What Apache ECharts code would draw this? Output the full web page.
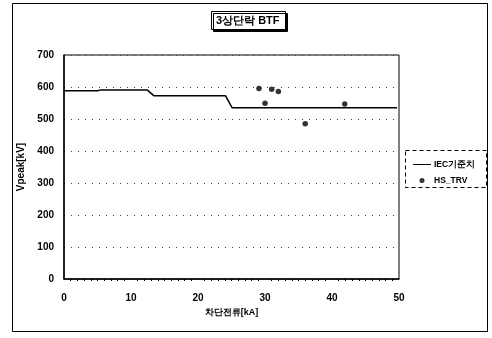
<!DOCTYPE html>
<html><head><meta charset="utf-8">
<script src="https://cdn.jsdelivr.net/npm/echarts@6/dist/echarts.min.js"></script>
<style>html,body{margin:0;padding:0;background:#fff}#c{width:492px;height:338px}</style>
</head><body><div id="c"></div>
<script>
const titleText = '3상단락 BTF';
const xName = '차단전류[kA]';
const yName = 'Vpeak[kV]';
const iecX = [0, 5, 5.5, 12.4, 13.4, 24.1, 25.1, 49.7];
const iecY = [588, 588, 591, 591, 573, 573, 535, 535];
const trvX = [29.1, 30.0, 31.0, 32.0, 36.0, 41.9];
const trvY = [595, 549, 593, 586, 485, 547];
const F = '"Liberation Sans", Arial, sans-serif';
const chart = echarts.init(document.getElementById('c'));
chart.setOption({
  animation: false,
  backgroundColor: '#fff',
  title: {
    text: titleText, left: 211, top: 11, padding: [4, 6, 4, 5],
    borderColor: '#000', borderWidth: 1,
    shadowColor: '#000', shadowOffsetX: 2, shadowOffsetY: 2, shadowBlur: 0,
    backgroundColor: '#fff',
    textStyle: { fontFamily: F, fontSize: 11, fontWeight: 'bold', color: '#000' }
  },
  legend: {
    orient: 'vertical', left: 408, top: 155, itemGap: 7, itemWidth: 18, itemHeight: 5,
    textStyle: { fontFamily: F, fontSize: 8.5, fontWeight: 'bold', color: '#000', padding: [0, 0, 0, -2] },
    data: [
      { name: 'IEC기준치', icon: 'path://M0,2L18,2L18,3L0,3Z' },
      { name: 'HS_TRV', icon: 'circle' }
    ]
  },
  graphic: [
    { type: 'rect', shape: { x: 12.5, y: 3.5, width: 475, height: 328 }, style: { fill: 'none', stroke: '#000', lineWidth: 1 }, z: -10 },
    { type: 'rect', shape: { x: 405.5, y: 150.5, width: 81, height: 37 }, style: { fill: 'none', stroke: '#000', lineWidth: 1, lineDash: [4, 3] } }
  ],
  grid: { left: 64, right: 93, top: 55, bottom: 59, show: true, borderColor: '#000', borderWidth: 1 },
  xAxis: {
    type: 'value', min: 0, max: 50, interval: 10,
    name: xName, nameLocation: 'middle', nameGap: 26,
    nameTextStyle: { fontFamily: F, fontSize: 9, fontWeight: 'bold', color: '#000' },
    axisLine: { lineStyle: { color: '#000', width: 1.5 } },
    axisTick: { show: false },
    minorTick: { show: true, splitNumber: 10, length: 2, lineStyle: { color: '#000' } },
    axisLabel: { fontFamily: F, fontSize: 10, fontWeight: 'bold', color: '#000', margin: 14 },
    splitLine: { show: false }
  },
  yAxis: {
    type: 'value', min: 0, max: 700, interval: 100,
    name: yName, nameLocation: 'middle', nameGap: 28,
    nameTextStyle: { fontFamily: F, fontSize: 10, fontWeight: 'bold', color: '#000' },
    axisLine: { lineStyle: { color: '#000', width: 1.5 } },
    axisTick: { show: false },
    axisLabel: { fontFamily: F, fontSize: 10, fontWeight: 'bold', color: '#000', margin: 10 },
    splitLine: { show: true, lineStyle: { color: '#444', type: [1, 6], width: 1 } }
  },
  series: [
    {
      name: 'IEC기준치', type: 'line', symbol: 'none',
      lineStyle: { color: '#000', width: 1.5 }, itemStyle: { color: '#000' },
      data: iecX.map((x, i) => [x, iecY[i]])
    },
    {
      name: 'HS_TRV', type: 'scatter', symbol: 'circle', symbolSize: 5.5,
      itemStyle: { color: '#000' },
      data: trvX.map((x, i) => [x, trvY[i]])
    }
  ]
});
</script></body></html>
